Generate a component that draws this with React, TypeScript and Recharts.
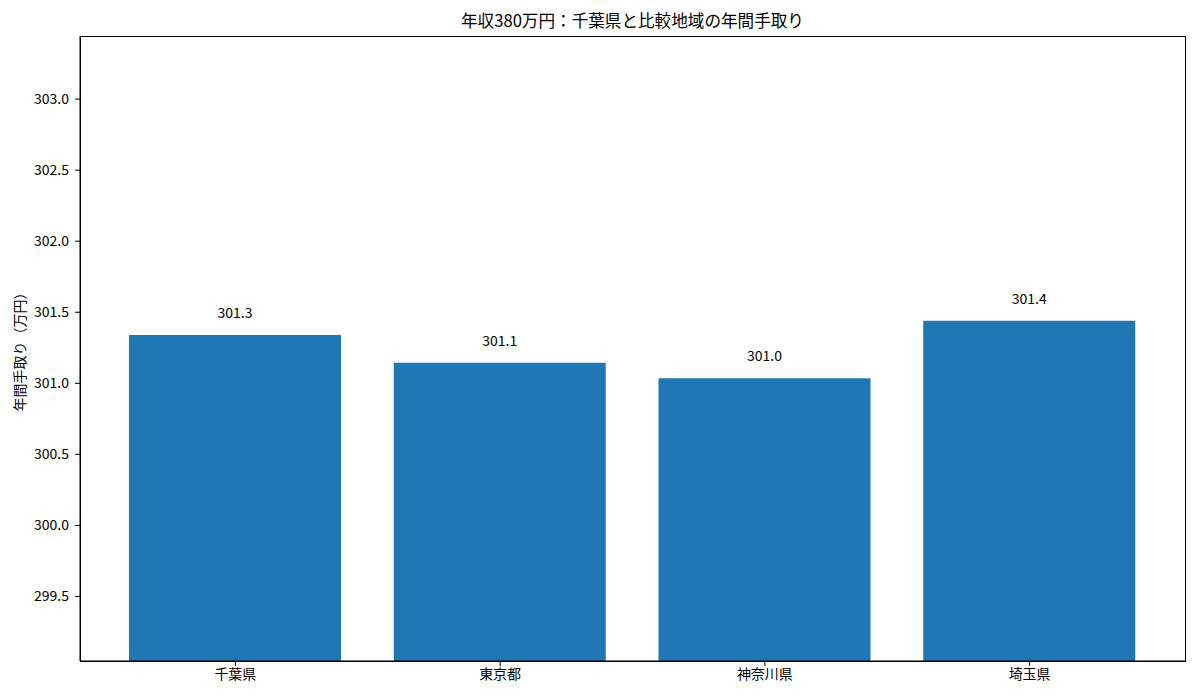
import { BarChart, Bar, XAxis, YAxis, LabelList } from "recharts"

const regions = ["千葉県", "東京都", "神奈川県", "埼玉県"]
const takeHome = [301.34, 301.145, 301.035, 301.44]
const yTicks = [299.5, 300.0, 300.5, 301.0, 301.5, 302.0, 302.5, 303.0]
const yDomain = [299.046, 303.444]

const data = regions.map((region, i) => ({ region, value: takeHome[i] }))

const FONT = '"Noto Sans CJK JP", "Noto Sans", sans-serif'
const tickStyle = { fill: "#000", fontSize: 14, fontFamily: FONT }

function App() {
  return (
    <div style={{ position: "absolute", top: 0, left: 0, width: 1200, height: 700, background: "#fff", fontFamily: FONT }}>
      <div
        style={{
          position: "absolute",
          top: 8,
          left: 80,
          width: 1105,
          textAlign: "center",
          fontSize: 16.6,
          color: "#000"
        }}
      >
        年収380万円：千葉県と比較地域の年間手取り
      </div>

      <BarChart
        width={1200}
        height={700}
        data={data}
        margin={{ top: 36, right: 15, bottom: 9, left: 0 }}
        style={{ position: "absolute", top: 0, left: 0 }}
      >
        <XAxis
          dataKey="region"
          height={30}
          padding={{ left: 23, right: 23 }}
          axisLine={{ stroke: "#000" }}
          tickLine={{ stroke: "#000" }}
          tickSize={5}
          tickMargin={3}
          tick={tickStyle}
        />
        <YAxis
          width={80}
          domain={yDomain}
          ticks={yTicks}
          type="number"
          allowDataOverflow
          tickFormatter={(v: number) => v.toFixed(1)}
          axisLine={{ stroke: "#000" }}
          tickLine={{ stroke: "#000" }}
          tickSize={5}
          tickMargin={6}
          tick={tickStyle}
          label={{
            value: "年間手取り（万円）",
            angle: -90,
            position: "center",
            dx: -20,
            style: { fill: "#000", fontSize: 14, fontFamily: FONT }
          }}
        />
        <Bar dataKey="value" fill="#1f77b4" barSize={212} isAnimationActive={false}>
          <LabelList
            dataKey="value"
            position="top"
            offset={17}
            formatter={(v: number) => (Math.floor(v * 10) / 10).toFixed(1)}
            style={{ fill: "#000", fontSize: 14, fontFamily: FONT }}
          />
        </Bar>
      </BarChart>

      {/* plot frame (top and right spines) */}
      <div
        style={{
          position: "absolute",
          left: 79.5,
          top: 35.5,
          width: 1106,
          height: 626,
          boxSizing: "border-box",
          border: "1px solid #000",
          pointerEvents: "none"
        }}
      />
    </div>
  )
}

export default App
